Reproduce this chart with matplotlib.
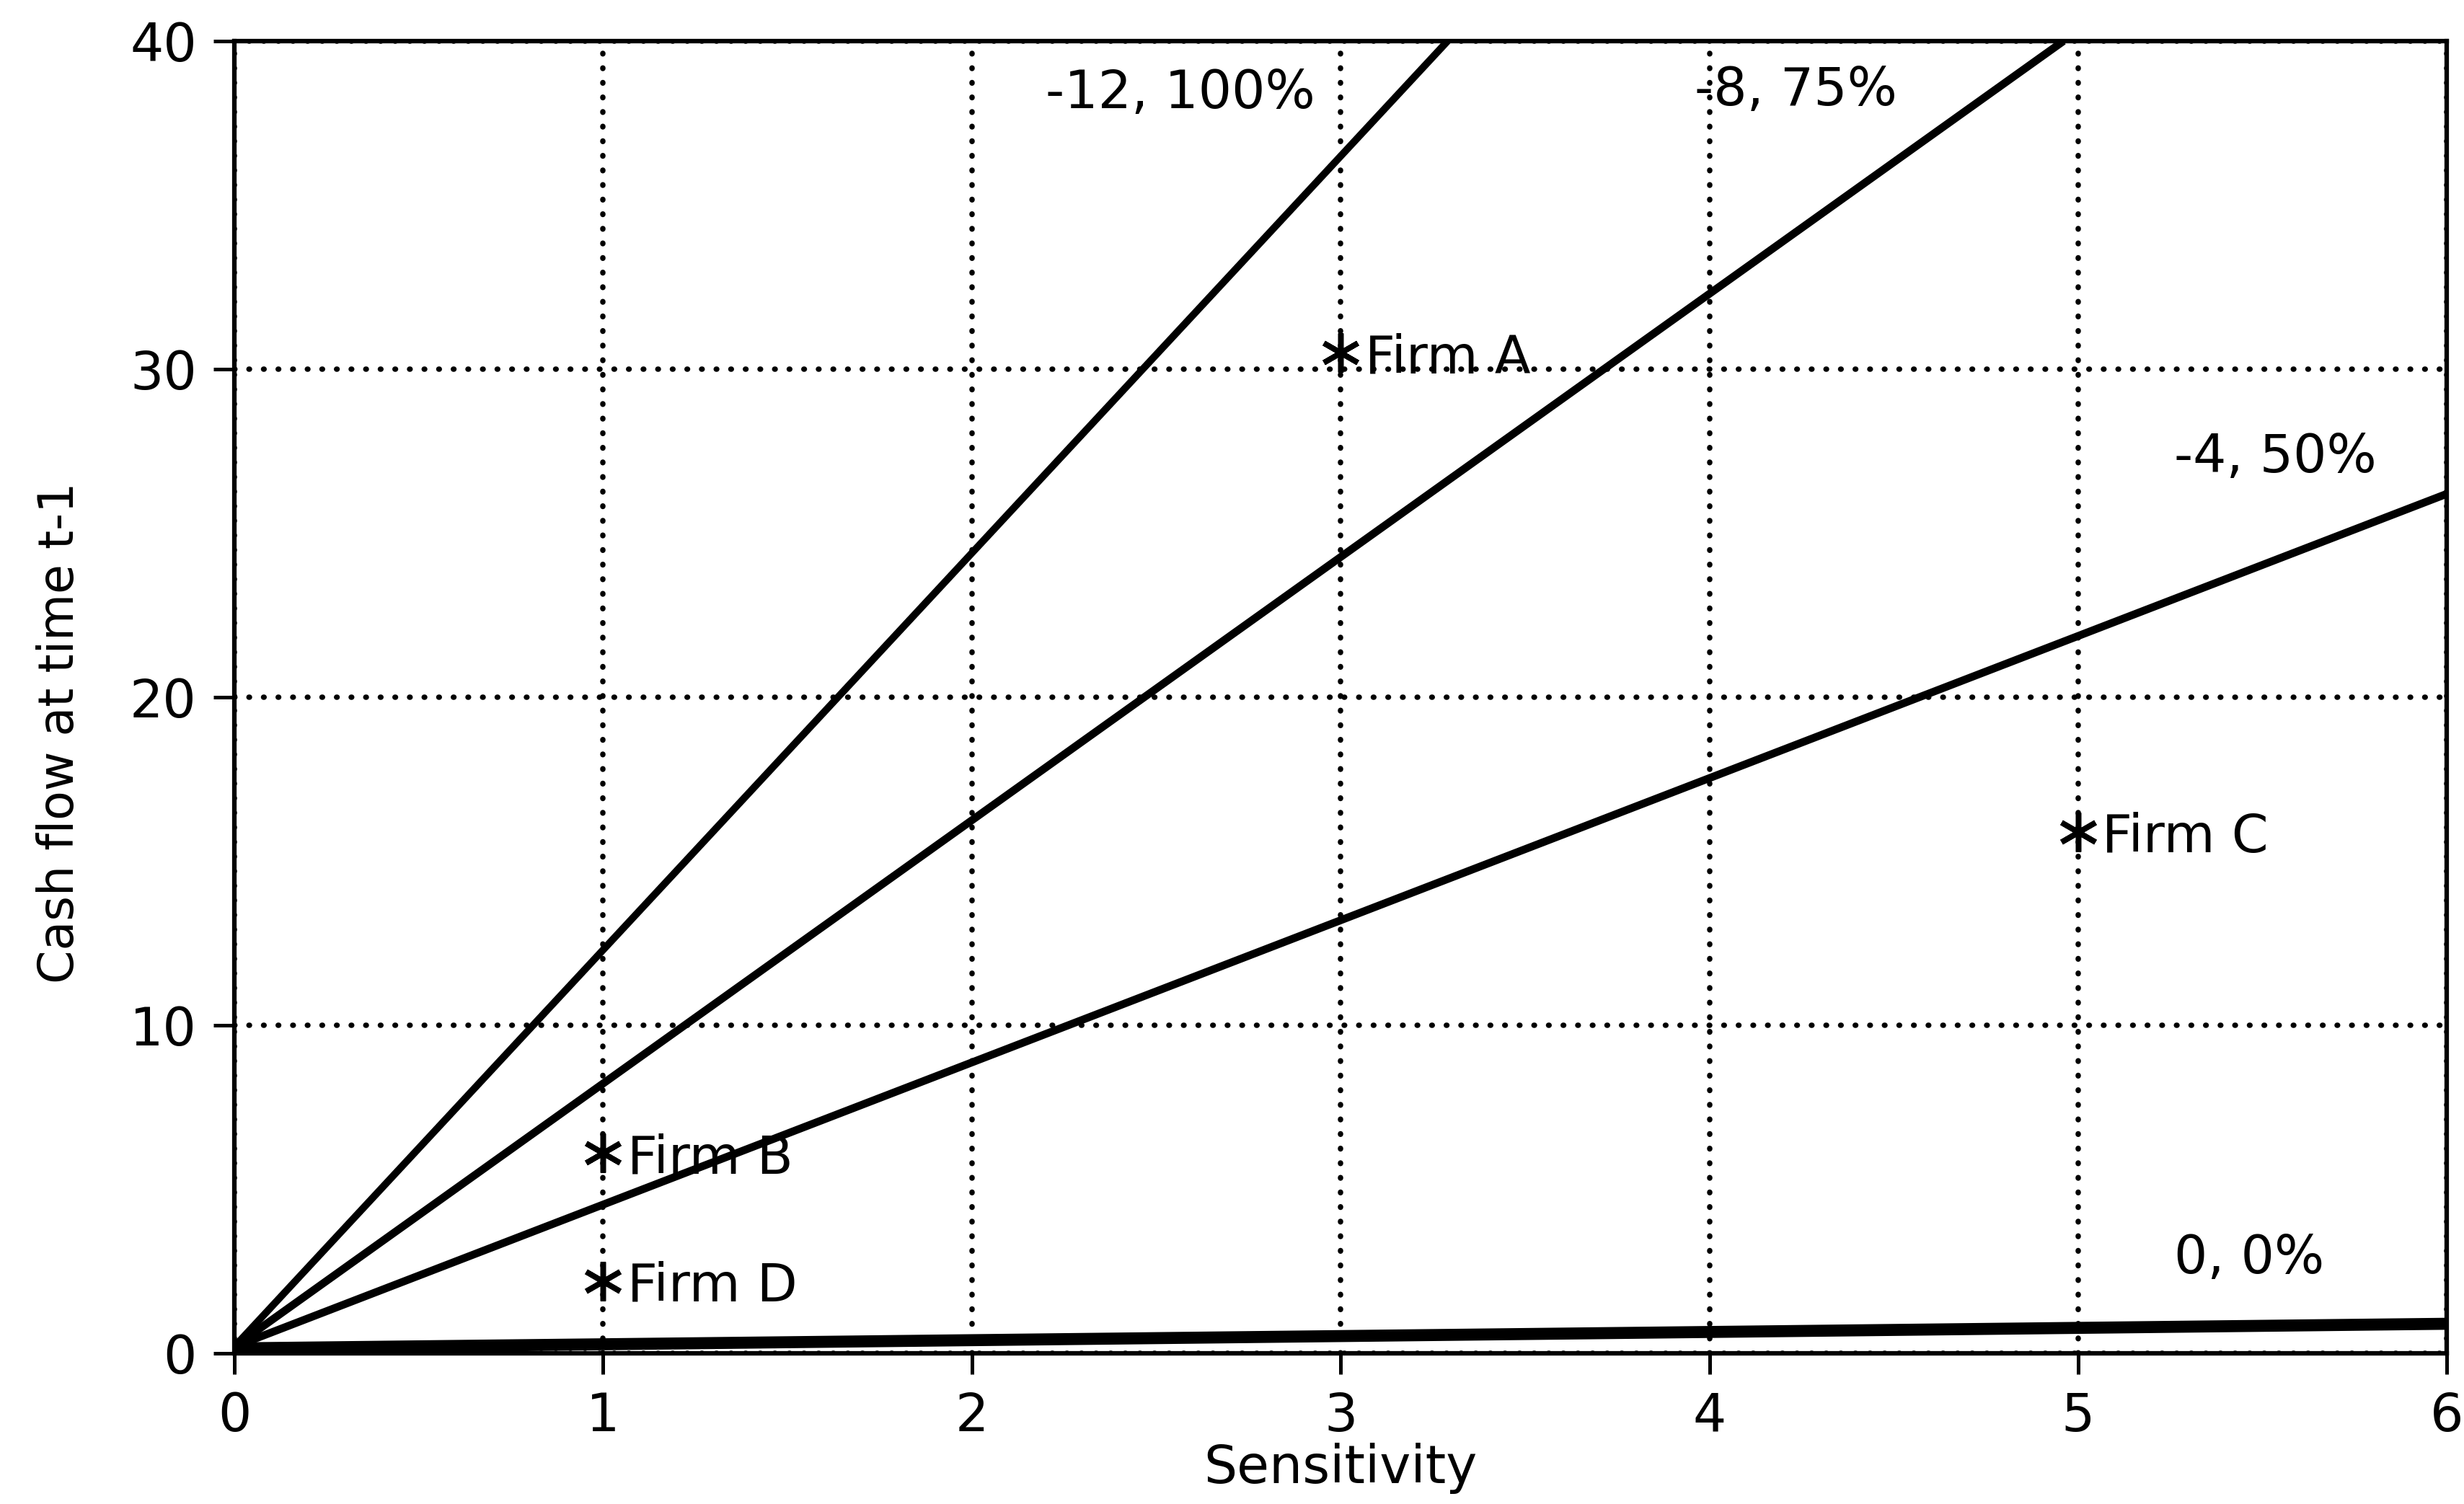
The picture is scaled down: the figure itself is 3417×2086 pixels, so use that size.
import matplotlib.pyplot as plt

# axis ticks
sensitivity_ticks = [0, 1, 2, 3, 4, 5, 6]
cash_flow_ticks = [0, 10, 20, 30, 40]

# critical lines (start / end points)
line_labels = ["-12, 100%", "-8, 75%", "-4, 50%", "0, 0%"]
line_x = [[0, 3.29], [0, 4.96], [0, 6.0], [0, 6.0]]
line_y = [[0.2, 40], [0.2, 40], [0.2, 26.2], [0.15, 0.9]]
label_x = [2.93, 3.96, 5.26, 5.26]
label_y = [38.4, 38.5, 27.3, 2.9]

# firms
firm_names = ["Firm A", "Firm B", "Firm C", "Firm D"]
firm_sensitivity = [3, 1, 5, 1]
firm_cash_flow = [30.5, 6.1, 15.9, 2.2]

FS = 17.5


def main() -> None:
    plt.rcParams["font.family"] = ["DejaVu Sans"]
    fig = plt.figure(figsize=(3417 / 300, 2086 / 300), dpi=300)
    ax = fig.add_axes([0.0951, 0.1002, 0.898, 0.8725])

    widths = [2.4, 2.6, 2.6, 4.0]
    aligns = ["right", "left", "left", "left"]
    for xs, ys, lw in zip(line_x, line_y, widths):
        ax.plot(xs, ys, color="black", lw=lw, solid_capstyle="butt", zorder=3)
    for text, x, y, ha in zip(line_labels, label_x, label_y, aligns):
        ax.text(x, y, text, ha=ha, va="center", fontsize=FS, zorder=4)

    ax.plot(firm_sensitivity, firm_cash_flow, linestyle="none", marker=(6, 2, 0),
            markersize=13, markeredgewidth=1.8, color="black", zorder=5)
    for name, x, y in zip(firm_names, firm_sensitivity, firm_cash_flow):
        ax.annotate(name, (x, y), xytext=(8, 0), textcoords="offset points",
                    ha="left", va="center_baseline", fontsize=FS, zorder=5)

    ax.set_xlim(0, 6)
    ax.set_ylim(0, 40)
    ax.set_xticks(sensitivity_ticks)
    ax.set_yticks(cash_flow_ticks)
    ax.grid(True, color="black", linestyle=(0, (0.1, 2.6)), linewidth=1.8,
            dash_capstyle="round")
    ax.tick_params(direction="out", length=7, width=1.2, labelsize=FS, pad=5.5)
    for spine in ax.spines.values():
        spine.set_linewidth(1.5)

    ax.set_xlabel("Sensitivity", fontsize=FS)
    ax.set_ylabel("Cash flow at time t-1", fontsize=16)
    ax.xaxis.set_label_coords(0.5, -0.068)
    ax.yaxis.set_label_coords(-0.068, 0.473)

    fig.savefig("out.png", dpi=300)


if __name__ == "__main__":
    main()
